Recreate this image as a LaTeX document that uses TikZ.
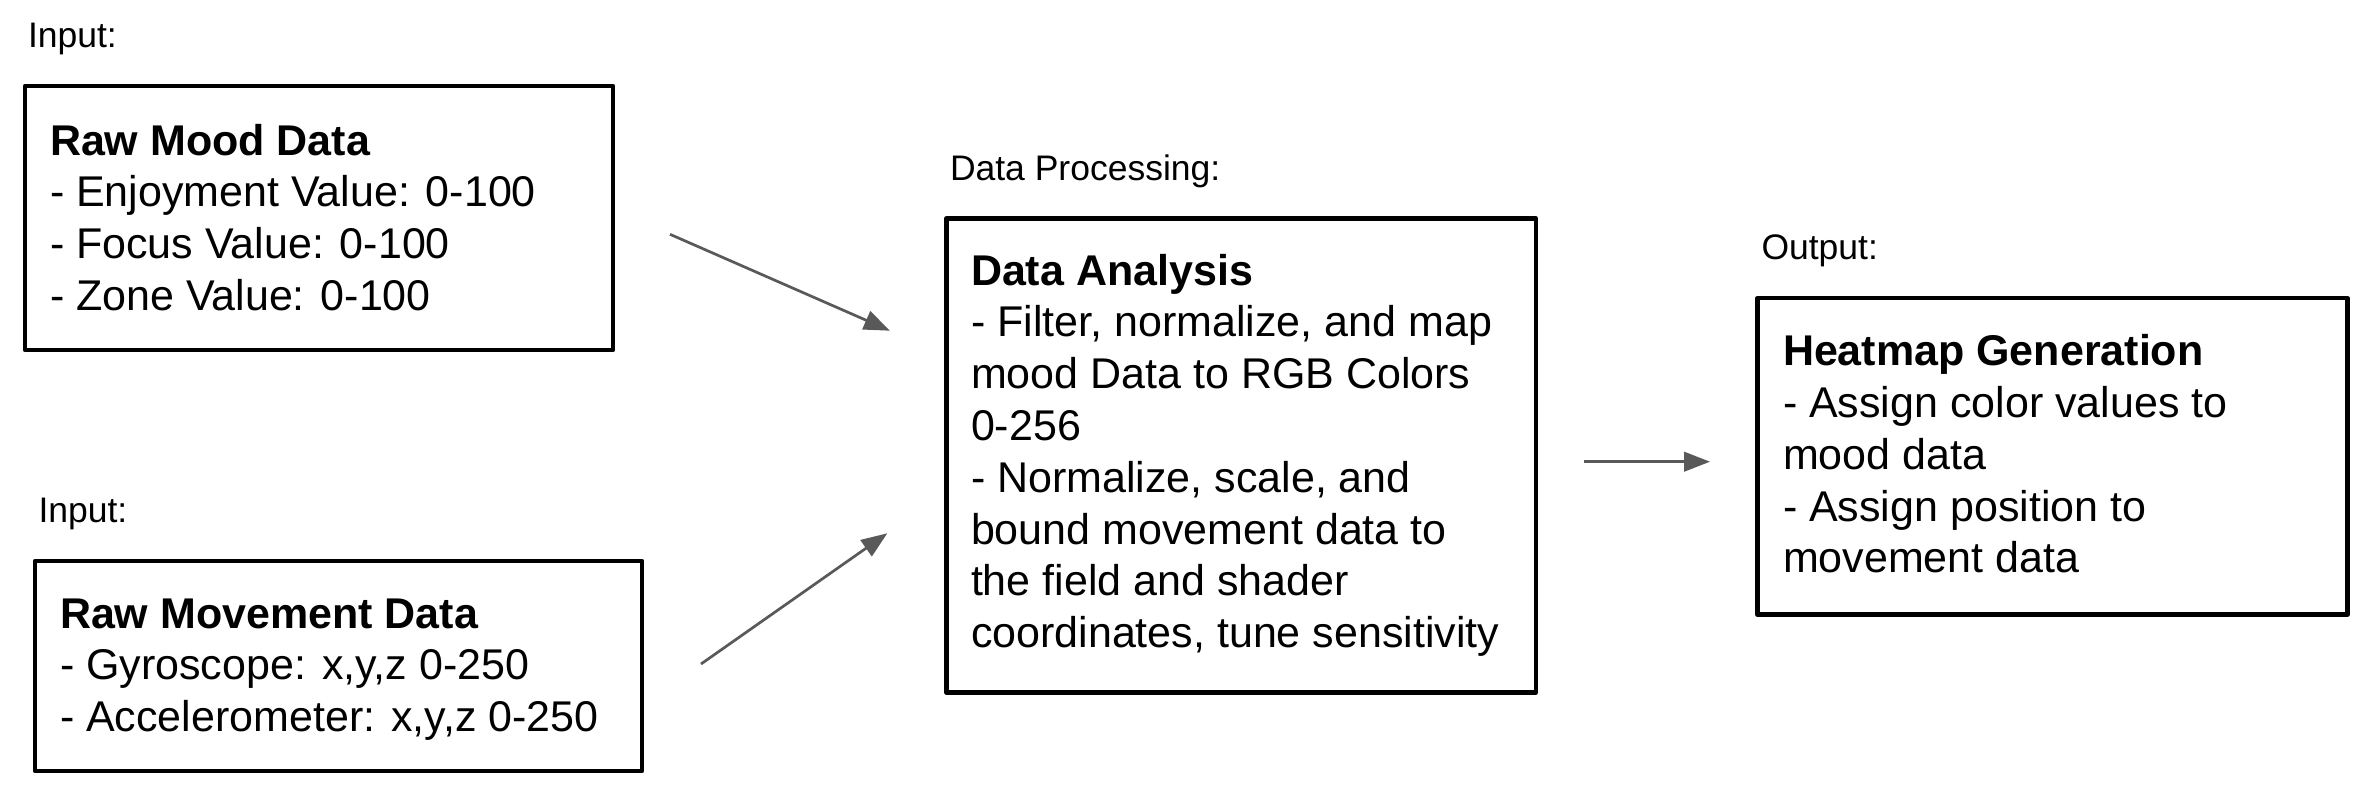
\documentclass[tikz,border=0pt]{standalone}
\usepackage{fontspec}
\setmainfont{Liberation Sans}
\usetikzlibrary{arrows.meta,calc}
\definecolor{arrowgray}{HTML}{595959}
\begin{document}
\begin{tikzpicture}[x=1pt,y=-1pt,
  box/.style={rectangle, draw=black, line width=4.2pt, line join=round, inner sep=0pt, outer sep=0pt, anchor=north west},
  body/.style={font=\fontsize{43}{51.8}\selectfont, align=left, inner sep=0pt, outer sep=0pt, anchor=base west},
  lbl/.style={font=\fontsize{35.5}{42}\selectfont, inner sep=0pt, outer sep=0pt, anchor=base west},
  arr/.style={draw=arrowgray, line width=2.7pt, -{Triangle[length=26pt,width=19.5pt]}}]
\fill[white] (0,0) rectangle (2378,806);
\useasboundingbox (0,0) rectangle (2378,806);

% labels
\node[lbl] (in1) at (28,47.7) {Input:};
\node[lbl] (in2) at (38.5,522.7) {Input:};
\node[lbl] (dp) at (950,180) {Data Processing:};
\node[lbl] (out) at (1761.5,259.3) {Output:};

% boxes
\node[box, minimum width=588pt, minimum height=264pt] (mood) at (25,86) {};
\node[box, minimum width=607pt, minimum height=210pt] (move) at (35,561) {};
\node[box, minimum width=589.5pt, minimum height=474pt] (proc) at (946.5,218.5) {};
\node[box, minimum width=590pt, minimum height=316.5pt] (heat) at (1757.5,298) {};

% texts (base anchor = baseline of the last line)
\node[body] (moodtxt) at (50,310.4) {\textbf{Raw Mood Data}\\- Enjoyment Value: 0-100\\- Focus Value: 0-100\\- Zone Value: 0-100};
\node[body] (movetxt) at (60,731.6) {\textbf{Raw Movement Data}\\- Gyroscope: x,y,z 0-250\\- Accelerometer: x,y,z 0-250};
\node[body] (proctxt) at (971,647.6) {\textbf{Data Analysis}\\- Filter, normalize, and map\\mood Data to RGB Colors\\0-256\\- Normalize, scale, and\\bound movement data to\\the field and shader\\coordinates, tune sensitivity};
\node[body] (heattxt) at (1783,572.9) {\textbf{Heatmap Generation}\\- Assign color values to\\mood data\\- Assign position to\\movement data};

% connectors
\draw[arr] ($(mood.east)+(57,16.3)$) -- ($(proc.west)+(-56.5,-124.8)$);
\draw[arr] ($(move.east)+(59,-2)$) -- ($(proc.west)+(-59.2,77.8)$);
\draw[arr] ($(proc.east)+(48,6.2)$) -- ($(heat.west)+(-47.5,5.45)$);
\end{tikzpicture}
\end{document}
